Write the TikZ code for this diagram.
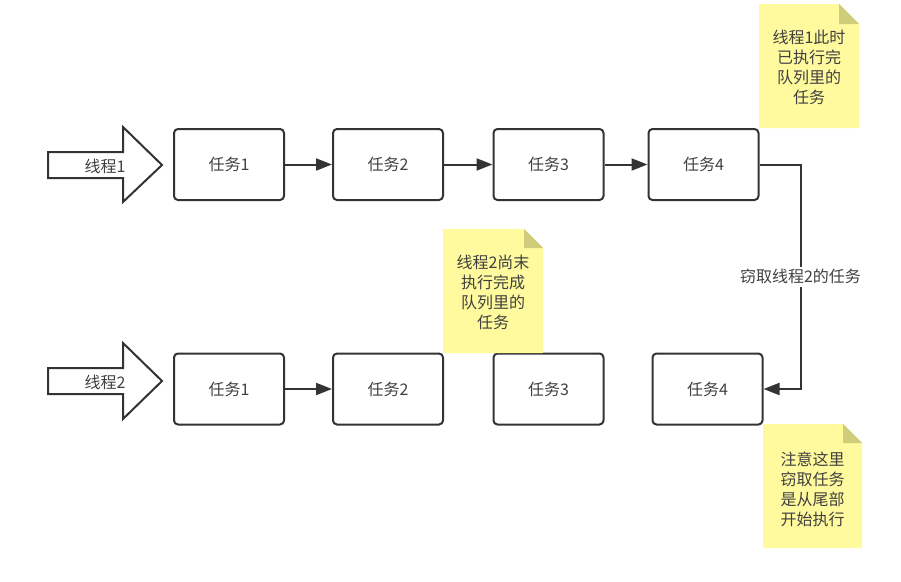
\documentclass[tikz,border=0pt]{standalone}
\usepackage{fontspec}
\newfontfamily\cjk{Noto Sans CJK SC}
\usetikzlibrary{arrows.meta}
\definecolor{linec}{HTML}{333333}
\definecolor{textc}{HTML}{404040}
\definecolor{notec}{HTML}{FFFA9E}
\definecolor{foldc}{HTML}{CFCC7A}
\tikzset{
	task/.style={rectangle, rounded corners=3pt, draw=linec, line width=1.5pt, minimum width=82.5pt, minimum height=53.25pt, text=textc},
	flow/.style={draw=linec, line width=1.5pt, -{Triangle[length=12pt,width=9pt]}},
	memo/.style={align=center, text=textc, font=\cjk\fontsize{12}{15}\selectfont},
}

\begin{document}
\begin{tikzpicture}[x=0.75pt, y=-0.75pt, every node/.style={font=\cjk\fontsize{12}{15}\selectfont}]
		\useasboundingbox (0,0) rectangle (901,582);
		
		% threads
		\node[text=textc] (th1) at (105,166) {线程1};
		\node[text=textc] (th2) at (105,382) {线程2};
		\draw[linec, line width=1.5pt, line join=miter] (48,152) -- (123,152) -- (123,127) -- (162,165) -- (123,202) -- (123,178) -- (48,178) -- cycle;
		\draw[linec, line width=1.5pt, line join=miter] (48,368) -- (123,368) -- (123,343) -- (162,381) -- (123,419) -- (123,394) -- (48,394) -- cycle;
		
		% queue of thread 1
		\node[task] (a1) at (229,164.5) {任务1};
		\node[task] (a2) at (388,164.5) {任务2};
		\node[task] (a3) at (548.5,164.5) {任务3};
		\node[task] (a4) at (703.5,164.5) {任务4};
		\draw[flow] (a1) -- (a2);
		\draw[flow] (a2) -- (a3);
		\draw[flow] (a3) -- (a4);
		
		% queue of thread 2
		\node[task] (b1) at (229,389) {任务1};
		\node[task] (b2) at (388,389) {任务2};
		\node[task] (b3) at (548.5,389) {任务3};
		\node[task] (b4) at (707.5,389) {任务4};
		\draw[flow] (b1) -- (b2);
		
		% steal
		\draw[flow] (a4.east) -- ++(41,0) |- node[pos=0.25, fill=white, inner sep=2pt, text=textc] (steal) {窃取线程2的任务} (b4.east);
		
		% notes
		\fill[notec] (759,4) -- (839,4) -- (859,24) -- (859,128) -- (759,128) -- cycle;
		\fill[foldc] (839,4) -- (859,24) -- (839,24) -- cycle;
		\node[memo] (n1) at (809,67) {线程1此时\\已执行完\\队列里的\\任务};
		
		\fill[notec] (443,229) -- (524,229) -- (543,248) -- (543,353) -- (443,353) -- cycle;
		\fill[foldc] (524,229) -- (543,248) -- (524,248) -- cycle;
		\node[memo] (n2) at (493,292) {线程2尚末\\执行完成\\队列里的\\任务};
		
		\fill[notec] (763,424) -- (843,424) -- (862,443) -- (862,548) -- (763,548) -- cycle;
		\fill[foldc] (843,424) -- (862,443) -- (843,443) -- cycle;
		\node[memo] (n3) at (812.5,489) {注意这里\\窃取任务\\是从尾部\\开始执行};
		
	\end{tikzpicture}
\end{document}
